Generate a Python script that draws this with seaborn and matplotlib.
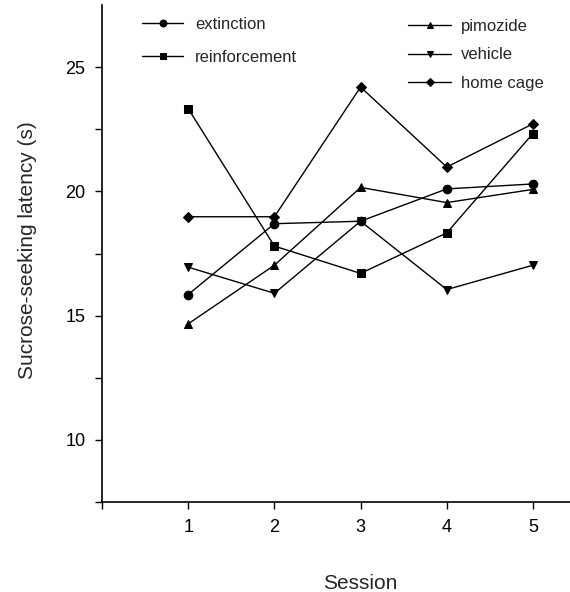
import pandas as pd
import seaborn as sns
import matplotlib.pyplot as plt

# datos
sesiones = [1, 2, 3, 4, 5]
extinction = [15.85, 18.7, 18.8, 20.1, 20.3]
reinforcement = [23.33, 17.8, 16.7, 18.33, 22.33]
pimozide = [14.67, 17.03, 20.16, 19.55, 20.08]
vehicle = [16.95, 15.9, 18.8, 16.05, 17.03]
home_cage = [18.98, 18.98, 24.2, 20.98, 22.72]

grupos = ["extinction", "reinforcement", "pimozide", "vehicle", "home cage"]
valores = [extinction, reinforcement, pimozide, vehicle, home_cage]
marcadores = {"extinction": "o", "reinforcement": "s", "pimozide": "^",
              "vehicle": "v", "home cage": "D"}
tamanos = {"extinction": 6.2, "reinforcement": 5.6, "pimozide": 6,
           "vehicle": 6, "home cage": 5.6}

filas = []
for g, vals in zip(grupos, valores):
    for s, v in zip(sesiones, vals):
        filas.append({"grupo": g, "sesion": s, "latencia": v})
df = pd.DataFrame(filas)

sns.set_style("ticks")
plt.rcParams['font.family'] = ['Liberation Sans', 'DejaVu Sans']

fig = plt.figure(figsize=(5.7, 5.92), dpi=100)
ax = fig.add_axes([0.179, 0.152, 0.821, 0.8395])

handles = {}
for g in grupos:
    sub = df[df["grupo"] == g]
    sns.lineplot(data=sub, x="sesion", y="latencia", ax=ax, color="black",
                 marker=marcadores[g], markersize=tamanos[g], linewidth=1,
                 markeredgecolor="black", markerfacecolor="black", label=g)
    handles[g] = ax.lines[-1]

ax.set_xlim(0, 5.43)
ax.set_ylim(7.5, 27.5)
ax.set_xticks([0, 1, 2, 3, 4, 5])
ax.set_xticklabels(["", "1", "2", "3", "4", "5"])
ax.set_yticks([7.5, 10, 12.5, 15, 17.5, 20, 22.5, 25])
ax.set_yticklabels(["", "10", "", "15", "", "20", "", "25"])
ax.tick_params(axis="both", direction="out", length=5, width=1, labelsize=13,
               color="black", labelcolor="black")
ax.tick_params(axis="x", pad=7)
ax.tick_params(axis="y", pad=7)
for lado in ["left", "bottom"]:
    ax.spines[lado].set_linewidth(1.2)
    ax.spines[lado].set_color("black")
ax.spines["top"].set_visible(False)
ax.spines["right"].set_visible(False)

ax.set_xlabel("Session", fontsize=15)
ax.set_ylabel("Sucrose-seeking latency (s)", fontsize=15)
ax.xaxis.set_label_coords(0.551, -0.145)
ax.yaxis.set_label_coords(-0.14, 0.507)

ax.get_legend().remove()
leg1 = ax.legend([handles[g] for g in ["extinction", "reinforcement"]],
                 ["extinction", "reinforcement"], loc="upper left",
                 bbox_to_anchor=(0.054, 1.006), frameon=False, fontsize=12,
                 handlelength=2.45, handletextpad=0.72, labelspacing=1.05,
                 markerscale=0.8)
ax.add_artist(leg1)
ax.legend([handles[g] for g in ["pimozide", "vehicle", "home cage"]],
          ["pimozide", "vehicle", "home cage"], loc="upper left",
          bbox_to_anchor=(0.622, 1.002), frameon=False, fontsize=12,
          handlelength=2.6, handletextpad=0.55, labelspacing=0.8,
          markerscale=0.75)

fig.savefig("out.png", dpi=100)
